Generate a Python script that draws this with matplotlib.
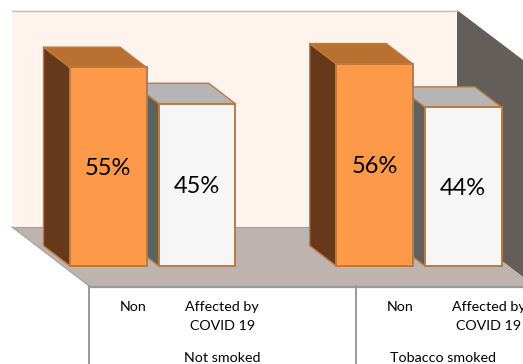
import matplotlib
matplotlib.use("Agg")
import matplotlib.pyplot as plt
from matplotlib.patches import Polygon

plt.rcParams['font.family'] = ['Lato', 'DejaVu Sans']

# values
positions = [0, 1, 3, 4]
values = [55, 45, 56, 44]
value_labels = ['55%', '45%', '56%', '44%']
categories = ['Non', 'Affected by\nCOVID 19', 'Non', 'Affected by\nCOVID 19']
groups = ['Not smoked', 'Tobacco smoked']
group_centers = [1.28, 3.77]

# colours per bar
front_cols = ['#FF994A', '#F6F6F6', '#FF994A', '#F6F6F6']
side_cols = ['#65391A', '#606060', '#65391A', '#606060']
top_cols = ['#B97030', '#B5B5B5', '#B97030', '#B5B5B5']
edge_col = '#BC7A3E'

W, H = 523, 364
PX_PER_CAT = 88.75
PX_PER_PCT = 3.61
X0 = 108.25   # pixel of category 0
Y0 = 266.0    # pixel of value 0
bar_w = 0.862
dx = -26.5 / PX_PER_CAT
dy = 20.3 / PX_PER_PCT

fig = plt.figure(figsize=(W / 100, H / 100), dpi=100)

# frame (walls and floor) in pixels
bg = fig.add_axes([0, 0, 1, 1])
bg.set_xlim(0, W)
bg.set_ylim(H, 0)
bg.axis('off')
bg.add_patch(Polygon([(12, 10), (457, 10), (457, 227), (12, 227)], fc='#FEF3ED', ec='none'))
bg.plot([12, 457], [10.5, 10.5], color='#C9BDB9', lw=1)
bg.add_patch(Polygon([(457, 10), (523, 60), (523, 277), (457, 227)], fc='#645E5B', ec='none'))
bg.add_patch(Polygon([(12, 227), (457, 227), (523, 277), (523, 286), (89, 286)], fc='#BFB3AF', ec='none'))
bg.plot([12, 89], [227, 286], color='#A8A09C', lw=0.8)
bg.plot([12, 457], [227, 227], color='#A8A09C', lw=0.8)
bg.plot([89, 523], [286.5, 286.5], color='#9A9A9A', lw=1.6)
bg.plot([89, 89], [286, 364], color='#9A9A9A', lw=1.4)
bg.plot([356, 356], [286, 364], color='#9A9A9A', lw=1.4)

# bars on a value scale
ax = fig.add_axes([0, 0, 1, 1], facecolor='none')
ax.set_xlim(-X0 / PX_PER_CAT, (W - X0) / PX_PER_CAT)
ax.set_ylim(-(H - Y0) / PX_PER_PCT, Y0 / PX_PER_PCT)
ax.axis('off')

for i in reversed(range(len(values))):
    p = positions[i]
    v = values[i]
    l = p - bar_w / 2
    r = p + bar_w / 2
    ax.add_patch(Polygon([(l, 0), (l + dx, dy), (l + dx, v + dy), (l, v)],
                         fc=side_cols[i], ec=edge_col, lw=1.0, joinstyle='round'))
    ax.add_patch(Polygon([(l, v), (l + dx, v + dy), (r + dx, v + dy), (r, v)],
                         fc=top_cols[i], ec=edge_col, lw=1.0, joinstyle='round'))
    ax.bar(p, v, width=bar_w, color=front_cols[i], edgecolor=edge_col, linewidth=1.4)
    ax.text(p, v / 2 - 0.4, value_labels[i], ha='center', va='center', fontsize=17, color='black')

# category labels
for p, c in zip(positions, categories):
    ax.text(p + 0.285, -(301 - Y0) / PX_PER_PCT, c, ha='center', va='top',
            fontsize=10.3, linespacing=1.67, color='black')
for c, g in zip(group_centers, groups):
    ax.text(c, -(358 - Y0) / PX_PER_PCT, g, ha='center', va='center', fontsize=10.3, color='black')

fig.savefig('out.png', dpi=100)
